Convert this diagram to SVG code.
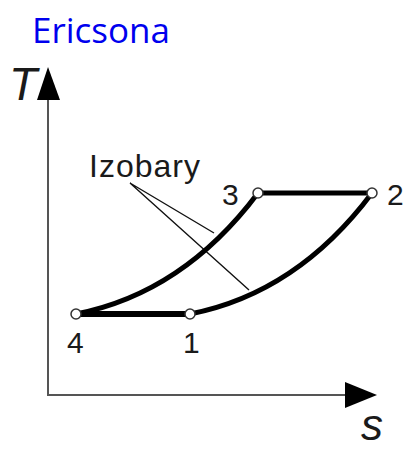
<svg xmlns="http://www.w3.org/2000/svg" width="411" height="449" viewBox="0 0 411 449">
<style>
.lbl{font-family:"Liberation Sans",Arial,sans-serif;fill:#1a1a1a}
.ax{stroke:#555;stroke-width:2;fill:none}
.proc{stroke:#000;fill:none;stroke-linecap:round}
.pt{fill:#fff;stroke:#333;stroke-width:1.5}
.lead{stroke:#111;stroke-width:1.4;fill:none}
</style>
<rect width="411" height="449" fill="#fff"/>
<text x="32" y="43" font-family="'Open Sans','Noto Sans',sans-serif" font-size="35" fill="#0000ee">Ericsona</text>
<g id="axes">
<path class="ax" d="M48,92 V395 H350"/>
<polygon points="48,67 37,100 60,100" fill="#000"/>
<polygon points="377,395 345,382 345,408" fill="#000"/>
<text class="lbl" x="9" y="100" font-size="46" font-style="italic">T</text>
<text class="lbl" x="361" y="440" font-size="44" font-style="italic">s</text>
</g>
<g id="connectors">
<path class="lead" d="M130,183 L214,233 M130,183 L249,290"/>
<path class="proc" stroke-width="6" d="M76,314 H190"/>
<path class="proc" stroke-width="5" d="M258,193 H372"/>
<path class="proc" stroke-width="5" d="M76,314 Q183,293 258,193"/>
<path class="proc" stroke-width="5" d="M190,314 Q297,293 372,193"/>
</g>
<g id="p4"><circle class="pt" cx="76" cy="314" r="5"/><text class="lbl" x="67" y="353" font-size="30">4</text></g>
<g id="p1"><circle class="pt" cx="190" cy="314" r="5"/><text class="lbl" x="183" y="353" font-size="30">1</text></g>
<g id="p3"><circle class="pt" cx="258" cy="193" r="5"/><text class="lbl" x="222" y="205" font-size="30">3</text></g>
<g id="p2"><circle class="pt" cx="372" cy="193" r="5"/><text class="lbl" x="387" y="205" font-size="30">2</text></g>
<g id="izobary"><text class="lbl" x="89" y="177" font-size="32" letter-spacing="1">Izobary</text></g>
</svg>
